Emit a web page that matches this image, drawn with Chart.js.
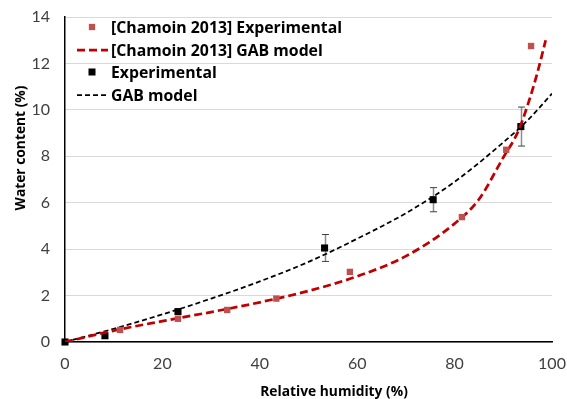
<!DOCTYPE html>
<html>
<head>
<meta charset="utf-8">
<script src="https://cdn.jsdelivr.net/npm/chart.js@4"></script>
<style>
  html, body { margin: 0; padding: 0; background: #fff; }
  canvas { display: block; }
</style>
</head>
<body>
<canvas id="c" width="567" height="399"></canvas>
<script>
// Sorption isotherm: water content vs relative humidity
const rhChamoin = [11.3, 23.2, 33.3, 43.4, 58.5, 81.5, 90.6, 95.7];
const wcChamoin = [0.52, 1.0, 1.38, 1.87, 3.02, 5.38, 8.28, 12.75];

const rhGabChamoin = [0, 10, 20, 30, 40, 50, 60, 70, 80, 85, 90, 93, 95, 97, 98.7];
const wcGabChamoin = [0, 0.49, 0.9, 1.29, 1.71, 2.2, 2.83, 3.7, 5.1, 6.15, 7.95, 9.05, 10.2, 11.6, 13.0];

const rhExp = [0, 8.2, 23.2, 53.3, 75.6, 93.6];
const wcExp = [0, 0.27, 1.31, 4.05, 6.13, 9.28];
const errExp = [0, 0, 0, 0.58, 0.52, 0.84];

const rhGab = [0, 10, 20, 30, 40, 50, 60, 70, 80, 90, 95, 100];
const wcGab = [0, 0.57, 1.19, 1.87, 2.61, 3.45, 4.45, 5.55, 6.9, 8.6, 9.55, 10.7];

const xTicks = [0, 20, 40, 60, 80, 100];
const yTicks = [0, 2, 4, 6, 8, 10, 12, 14];

const seriesLabels = [
  '[Chamoin 2013] Experimental',
  '[Chamoin 2013] GAB model',
  'Experimental',
  'GAB model'
];

const TICK_FONT = 'Lato, "Liberation Sans", sans-serif';
const BOLD_FONT = '"Open Sans", "Liberation Sans", sans-serif';
const pts = (xs, ys) => xs.map((v, i) => ({ x: v, y: ys[i] }));

// error bars on the measured points
const errorBars = {
  id: 'errorBars',
  beforeDatasetsDraw(chart) {
    const { ctx, scales: { x, y } } = chart;
    ctx.save();
    rhExp.forEach((rh, i) => {
      const e = errExp[i];
      if (!e) return;
      const px = Math.round(x.getPixelForValue(rh)) + 0.5;
      const top = y.getPixelForValue(wcExp[i] + e);
      const bot = y.getPixelForValue(wcExp[i] - e);
      ctx.strokeStyle = '#8c8c8c';
      ctx.lineWidth = 1.5;
      ctx.beginPath(); ctx.moveTo(px, top); ctx.lineTo(px, bot); ctx.stroke();
      ctx.strokeStyle = '#404040';
      ctx.lineWidth = 1;
      ctx.beginPath();
      ctx.moveTo(px - 3.5, top); ctx.lineTo(px + 3.5, top);
      ctx.moveTo(px - 3.5, bot); ctx.lineTo(px + 3.5, bot);
      ctx.stroke();
    });
    ctx.restore();
  }
};

// axis titles
const axisTitles = {
  id: 'axisTitles',
  afterDraw(chart) {
    const { ctx } = chart;
    ctx.save();
    ctx.fillStyle = '#000';
    ctx.font = 'bold 13.8px ' + BOLD_FONT;
    ctx.textAlign = 'center';
    ctx.textBaseline = 'middle';
    ctx.fillText('Relative humidity (%)', 334, 392);
    ctx.translate(21, 148);
    ctx.rotate(-Math.PI / 2);
    ctx.fillText('Water content (%)', 0, 0);
    ctx.restore();
  }
};

// legend drawn inside the plot, top-left
const innerLegend = {
  id: 'innerLegend',
  afterDraw(chart) {
    const { ctx } = chart;
    const rows = [27, 50, 72, 95];
    ctx.save();
    ctx.font = 'bold 15.8px ' + BOLD_FONT;
    ctx.textAlign = 'left';
    ctx.textBaseline = 'middle';
    chart.data.datasets.forEach((ds, i) => {
      const yy = rows[i];
      if (ds.showLine) {
        ctx.strokeStyle = ds.borderColor;
        ctx.lineWidth = ds.borderWidth;
        ctx.setLineDash(ds.borderDash);
        ctx.beginPath(); ctx.moveTo(77, yy); ctx.lineTo(108, yy); ctx.stroke();
        ctx.setLineDash([]);
      } else {
        const s = ds.pointRadius * 1.4;
        ctx.fillStyle = ds.pointBackgroundColor;
        ctx.fillRect(92 - s / 2, yy - s / 2, s, s);
      }
      ctx.fillStyle = '#000';
      ctx.fillText(ds.label, 111, yy + 1);
    });
    ctx.restore();
  }
};

new Chart(document.getElementById('c'), {
  type: 'scatter',
  data: {
    datasets: [
      {
        label: seriesLabels[0],
        data: pts(rhChamoin, wcChamoin),
        showLine: false,
        clip: false,
        pointStyle: 'rect',
        pointRadius: 4.5,
        pointBackgroundColor: '#C0504D',
        pointBorderColor: '#C0504D',
        pointBorderWidth: 0
      },
      {
        label: seriesLabels[1],
        data: pts(rhGabChamoin, wcGabChamoin),
        showLine: true,
        borderColor: '#C00000',
        borderWidth: 2.75,
        borderDash: [8, 4],
        pointRadius: 0,
        cubicInterpolationMode: 'monotone',
        fill: false
      },
      {
        label: seriesLabels[2],
        data: pts(rhExp, wcExp),
        showLine: false,
        clip: false,
        pointStyle: 'rect',
        pointRadius: 5,
        pointBackgroundColor: '#000000',
        pointBorderColor: '#000000',
        pointBorderWidth: 0
      },
      {
        label: seriesLabels[3],
        data: pts(rhGab, wcGab),
        showLine: true,
        borderColor: '#000000',
        borderWidth: 1.75,
        borderDash: [5, 3],
        pointRadius: 0,
        cubicInterpolationMode: 'monotone',
        fill: false
      }
    ]
  },
  options: {
    responsive: false,
    animation: false,
    events: [],
    layout: { padding: { top: 17, right: 15, left: 0, bottom: 0 } },
    plugins: {
      legend: { display: false },
      tooltip: { enabled: false },
      title: { display: false }
    },
    scales: {
      x: {
        type: 'linear',
        min: 0,
        max: 100,
        afterBuildTicks: (s) => { s.ticks = xTicks.map(v => ({ value: v })); },
        afterFit: (s) => { s.height = 57; s.paddingLeft = 0; s.paddingRight = 0; },
        grid: { color: 'rgba(0,0,0,0)', drawTicks: false },
        border: { display: true, color: '#000', width: 1.5 },
        ticks: { padding: 12, color: '#404040', font: { family: TICK_FONT, size: 16 } }
      },
      y: {
        type: 'linear',
        min: 0,
        max: 14,
        afterBuildTicks: (s) => { s.ticks = yTicks.map(v => ({ value: v })); },
        afterFit: (s) => { s.width = 65; s.paddingTop = 0; s.paddingBottom = 0; },
        grid: { color: '#d9d9d9', lineWidth: 1, drawTicks: false },
        border: { display: true, color: '#000', width: 1.5 },
        ticks: { padding: 15, color: '#404040', font: { family: TICK_FONT, size: 16 } }
      }
    }
  },
  plugins: [errorBars, axisTitles, innerLegend]
});
</script>
</body>
</html>
